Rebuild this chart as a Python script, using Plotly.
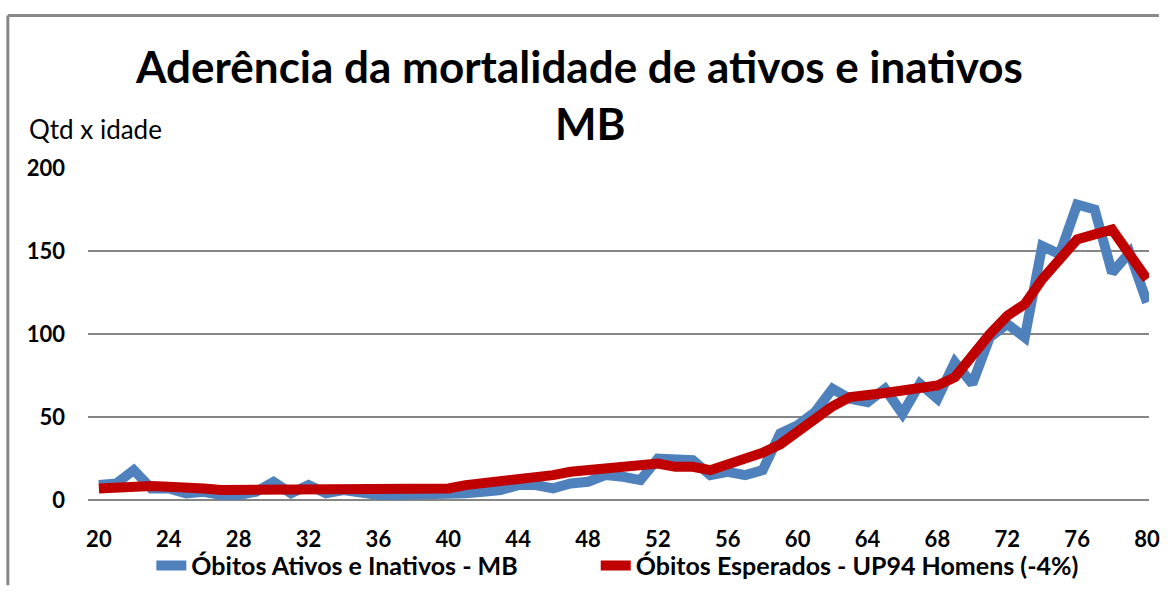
import plotly.graph_objects as go

ages = list(range(20, 81))

obitos_reais = [9, 10, 18, 7, 7, 4, 5, 3, 3, 5,
                11, 4, 9, 4, 6, 4, 3, 3, 3, 4,
                3, 4, 5, 6, 9, 9, 7, 10, 11, 15,
                14, 12, 25, 24, 24, 15, 17, 15, 18, 40,
                45, 53, 67, 61, 59, 67, 52, 70, 61, 83,
                70, 98, 106, 98, 153, 148, 178, 175, 137, 149,
                119]

obitos_esperados = [7, 8, 9, 8.5, 8, 8, 7, 6, 6, 6.5,
                    7, 7, 7, 7.5, 7, 6.5, 6, 6, 6, 6,
                    7, 9, 10, 11, 12.5, 14, 15, 17, 18, 19.5,
                    21, 21.5, 22, 20, 20, 18, 21, 24.5, 28.5, 33.5,
                    41, 49, 56.5, 62, 62.5, 64.5, 66, 67, 69, 74,
                    88, 100, 111, 118, 133, 146, 157, 160, 163, 148,
                    133]

nome_reais = "Óbitos Ativos e Inativos - MB"
nome_esperados = "Óbitos Esperados - UP94 Homens (-4%)"
titulo1 = "Aderência da mortalidade de ativos e inativos"
titulo2 = "MB"
eixo_y = "Qtd x idade"

W, H = 1168, 597
# plot area in page pixels
L, R, T, B = 88, 1160, 168, 517
FONT = "Lato, 'Open Sans', sans-serif"


def px_x(px):
    return (px - L) / (R - L)


def px_y(py):
    return (B - py) / (B - T)


fig = go.Figure()
fig.add_trace(go.Scatter(x=ages, y=obitos_reais, mode="lines", name=nome_reais,
                         line=dict(color="#4F81BD", width=10), legend="legend"))
fig.add_trace(go.Scatter(x=ages, y=obitos_esperados, mode="lines", name=nome_esperados,
                         line=dict(color="#C00000", width=10), legend="legend2"))

leg = dict(orientation="h", xanchor="left", y=px_y(580), yanchor="middle",
           font=dict(size=25, family=FONT, weight="bold"), bgcolor="rgba(0,0,0,0)")

fig.update_layout(
    width=W, height=H,
    margin=dict(l=L, r=W - R, t=T, b=H - B),
    paper_bgcolor="white", plot_bgcolor="white",
    font=dict(family=FONT, color="black"),
    showlegend=True,
    legend=dict(leg, x=px_x(152)),
    legend2=dict(leg, x=px_x(601)),
    xaxis=dict(range=[20 - 11 / 17.65, 80 + 2 / 17.65], tick0=20, dtick=4,
               showgrid=False, zeroline=False, showline=False, ticks="",
               tickfont=dict(size=22, weight="bold"), ticklabelstandoff=19,
               ticklabeloverflow="allow"),
    yaxis=dict(range=[-3, 200], tick0=0, dtick=50, showgrid=True, gridcolor="#868686",
               gridwidth=2, zeroline=False, showline=False, ticks="",
               tickfont=dict(size=22, weight="bold"), ticklabelstandoff=22),
)

fig.add_annotation(text=titulo1, x=px_x(584), y=px_y(62), xref="paper", yref="paper",
                   showarrow=False, xanchor="center", yanchor="middle",
                   font=dict(size=44, weight="bold"))
fig.add_annotation(text=titulo2, x=px_x(596), y=px_y(121), xref="paper", yref="paper",
                   showarrow=False, xanchor="center", yanchor="middle",
                   font=dict(size=44, weight="bold"))
fig.add_annotation(text=eixo_y, x=px_x(26), y=px_y(128), xref="paper", yref="paper",
                   showarrow=False, xanchor="left", yanchor="middle",
                   font=dict(size=26))

# chart border (left and top edges visible in the crop)
fig.add_shape(type="line", xref="paper", yref="paper", x0=px_x(7), x1=px_x(7),
              y0=px_y(10), y1=px_y(600), line=dict(color="#888888", width=3))
fig.add_shape(type="line", xref="paper", yref="paper", x0=px_x(7), x1=px_x(1170),
              y0=px_y(10), y1=px_y(10), line=dict(color="#888888", width=3))

page_css = ("document.body.style.margin='0';"
            "document.body.style.overflow='hidden';")
fig.write_html("out.html", config={"displayModeBar": False}, post_script=page_css)
